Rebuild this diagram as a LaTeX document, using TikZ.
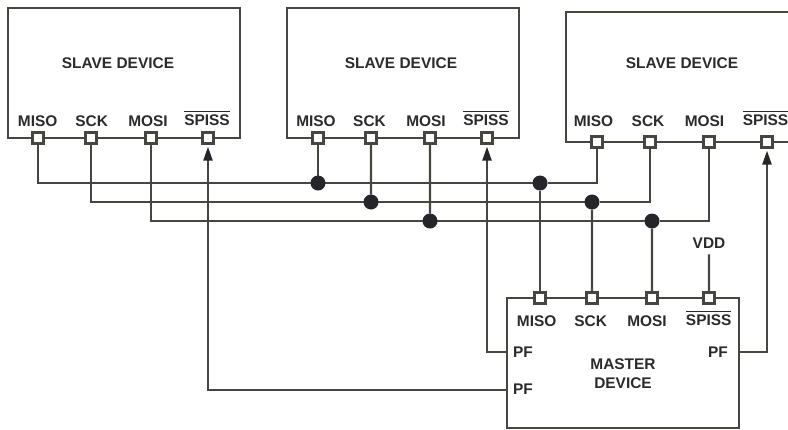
\documentclass[tikz,border=0pt]{standalone}
\usepackage{fontspec}
\usepackage{xcolor}
\usepackage{tikz}
\usetikzlibrary{arrows.meta, positioning, backgrounds}
\setmainfont{Liberation Sans}
\definecolor{wirecol}{HTML}{45463F}
\definecolor{dotcol}{HTML}{26262A}
\definecolor{textcol}{HTML}{2B2B2B}
\newcommand{\spiss}{$\overline{\mbox{\rule{0pt}{13pt}SPISS}}$}

\begin{document}
\begin{tikzpicture}[x=1bp, y=-1bp, node distance=52bp, >={Triangle[length=14bp, width=9bp, color=dotcol]},
  color=wirecol, line width=2.2bp,
  every node/.style={font=\fontsize{15.5}{19}\selectfont\bfseries, text=textcol},
  block/.style={rectangle, draw, minimum width=232bp, minimum height=130bp},
  port/.style={rectangle, draw, fill=white, minimum size=11bp, inner sep=0pt},
  junction/.style={circle, fill=dotcol, minimum size=15bp, inner sep=0pt, outer sep=0pt},
  pin/.style={inner sep=0pt},
  wire/.style={color=wirecol, line width=2.2bp},
  select/.style={wire, ->, shorten >=2bp}]
\clip (0,0) rectangle (788,429);
% slave devices and master
\node [block] (S1) at (124,73) {};
\node [block] (S2) at (403,73) {};
\node [block, minimum width=260bp] (S3) at (696,77) {};
\node [block] (M) at (623,363) {};
\node [pin] (S1name) at (118,63.5) {SLAVE DEVICE};
\node [pin] (S2name) at (401,63.5) {SLAVE DEVICE};
\node [pin] (S3name) at (682,63.5) {SLAVE DEVICE};
\node [align=center, pin] (Mname) at (623,373.5) {MASTER\\DEVICE};
% ports of first slave
\node [port] (S1miso) at (38,138) {};
\node [port, right of=S1miso, node distance=53bp] (S1sck) {};
\node [port, right of=S1sck, node distance=60bp] (S1mosi) {};
\node [port, right of=S1mosi, node distance=57bp] (S1spiss) {};
% ports of second slave
\node [port] (S2miso) at (318,138) {};
\node [port, right of=S2miso, node distance=53bp] (S2sck) {};
\node [port, right of=S2sck, node distance=59bp] (S2mosi) {};
\node [port, right of=S2mosi, node distance=57bp] (S2spiss) {};
% ports of third slave
\node [port] (S3miso) at (597,142) {};
\node [port, right of=S3miso, node distance=53bp] (S3sck) {};
\node [port, right of=S3sck, node distance=59bp] (S3mosi) {};
\node [port, right of=S3mosi, node distance=58bp] (S3spiss) {};
% ports of master
\node [port] (Mmiso) at (540,298) {};
\node [port, right of=Mmiso] (Msck) {};
\node [port, right of=Msck, node distance=60bp] (Mmosi) {};
\node [port, right of=Mmosi, node distance=57bp] (Mspiss) {};
% port labels
\node [pin] (S1misol) at (37.7,120.7) {MISO};
\node [pin] (S1sckl) at (91.7,120.7) {SCK};
\node [pin] (S1mosil) at (148,120.7) {MOSI};
\node [pin] (S1spissl) at (207,117.7) {\spiss};
\node [pin] (S2misol) at (316,120.7) {MISO};
\node [pin] (S2sckl) at (369.5,120.7) {SCK};
\node [pin] (S2mosil) at (426,120.7) {MOSI};
\node [pin] (S2spissl) at (486,117.7) {\spiss};
\node [pin] (S3misol) at (593.5,120.7) {MISO};
\node [pin] (S3sckl) at (648,120.7) {SCK};
\node [pin] (S3mosil) at (704.5,120.7) {MOSI};
\node [pin] (S3spissl) at (765.5,117.7) {\spiss};
\node [pin] (Mmisol) at (536.7,320.7) {MISO};
\node [pin] (Msckl) at (590.7,320.7) {SCK};
\node [pin] (Mmosil) at (647,320.7) {MOSI};
\node [pin] (Mspissl) at (708.7,317.7) {\spiss};
\node [pin] (pfa) at (523,352) {PF};
\node [pin] (pfb) at (523,389.5) {PF};
\node [pin] (pfc) at (718,352) {PF};
\node [inner sep=0pt, outer sep=6bp] (vdd) at (709,243) {VDD};
% junctions
\node [junction] (d1) at (318,183) {};
\node [junction] (d2) at (371,202) {};
\node [junction] (d3) at (430,221) {};
\node [junction] (d4) at (540,183) {};
\node [junction] (d5) at (592,202) {};
\node [junction] (d6) at (652,221) {};
\coordinate (ma) at (507,352);
\coordinate (mb) at (507,390);
\coordinate (mc) at (739,352);
\begin{pgfonlayer}{background}
% buses
\draw [wire] (S1miso) |- (d4) -| (S3miso);
\draw [wire] (S1sck) |- (d5) -| (S3sck);
\draw [wire] (S1mosi) |- (d6) -| (S3mosi);
\draw [wire] (d1) -- (S2miso);
\draw [wire] (d2) -- (S2sck);
\draw [wire] (d3) -- (S2mosi);
\draw [wire] (d4) -- (Mmiso);
\draw [wire] (d5) -- (Msck);
\draw [wire] (d6) -- (Mmosi);
\draw [wire] (vdd) -- (Mspiss);
% chip selects
\draw [select] (mb) -| (S1spiss);
\draw [select] (ma) -| (S2spiss);
\draw [select] (mc) -| (S3spiss);
\end{pgfonlayer}
\end{tikzpicture}
\end{document}
